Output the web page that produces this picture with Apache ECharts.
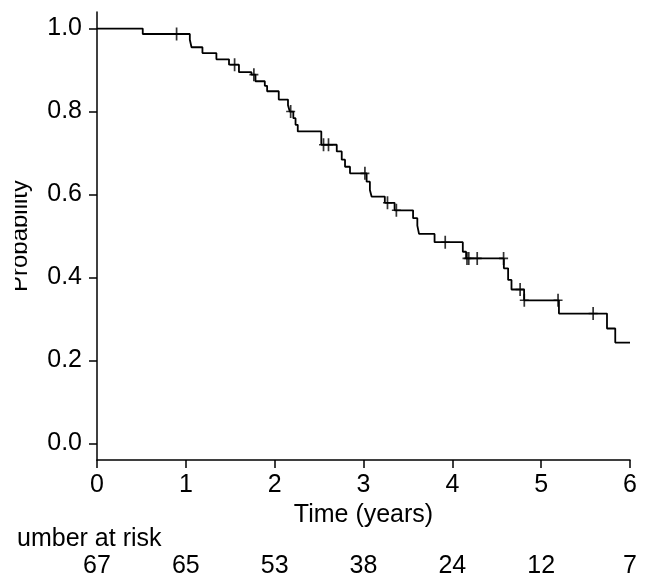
<!DOCTYPE html>
<html>
<head>
<meta charset="utf-8">
<script src="https://cdn.jsdelivr.net/npm/echarts@6/dist/echarts.min.js"></script>
<style>html,body{margin:0;padding:0;background:#fff;}#c{width:646px;height:581px;}</style>
</head>
<body>
<div id="c"></div>
<script>
// Kaplan-Meier step points: time (years) at which survival drops, and survival after drop
const times = [0, 0.515, 1.045, 1.064, 1.187, 1.344, 1.486, 1.598, 1.739, 1.784, 1.889, 1.915, 2.046, 2.15, 2.17, 2.21, 2.235, 2.26, 2.525, 2.699, 2.755, 2.792, 2.848, 3.035, 3.072, 3.091, 3.24, 3.35, 3.558, 3.606, 3.625, 3.80, 4.118, 4.155, 4.58, 4.628, 4.666, 4.808, 5.2, 5.741, 5.834, 6.0];
const surv  = [1, 0.987, 0.973, 0.955, 0.941, 0.926, 0.913, 0.895, 0.889, 0.873, 0.862, 0.849, 0.829, 0.815, 0.80, 0.784, 0.768, 0.752, 0.72, 0.704, 0.684, 0.667, 0.651, 0.631, 0.611, 0.595, 0.58, 0.562, 0.543, 0.525, 0.505, 0.485, 0.462, 0.446, 0.422, 0.394, 0.371, 0.345, 0.313, 0.277, 0.243, 0.243];
// censored observations
const censorTimes = [0.896, 1.549, 1.766, 2.18, 2.55, 2.606, 3.016, 3.27, 3.37, 3.92, 4.165, 4.185, 4.28, 4.577, 4.763, 4.81, 5.19, 5.585];
const censorSurv  = [0.987, 0.913, 0.889, 0.80, 0.72, 0.72, 0.651, 0.58, 0.562, 0.485, 0.446, 0.446, 0.446, 0.446, 0.371, 0.345, 0.345, 0.313];
const xTicks = [0, 1, 2, 3, 4, 5, 6];
const yTicks = [0, 0.2, 0.4, 0.6, 0.8, 1.0];
const atRisk = [67, 65, 53, 38, 24, 12, 7];

const FONT = "'Liberation Sans', Arial, Helvetica, sans-serif";
const FS = 25;
const chart = echarts.init(document.getElementById('c'), null, {renderer: 'canvas'});
const lineData = times.map((t, i) => [t, surv[i]]);
const censData = censorTimes.map((t, i) => [t, censorSurv[i]]);
const axisLineStyle = {color: '#000', width: 1.5};

chart.setOption({
  animation: false,
  backgroundColor: '#fff',
  grid: {left: 92, right: 16, top: 12, bottom: 121},
  xAxis: [{
    type: 'value', min: 0, max: 6, interval: 1,
    axisLine: {show: true, onZero: false, lineStyle: axisLineStyle},
    axisTick: {show: true, length: 8, lineStyle: axisLineStyle},
    axisLabel: {color: '#000', fontSize: FS, fontFamily: FONT, margin: 13},
    splitLine: {show: false},
    name: 'Time (years)', nameLocation: 'middle', nameGap: 39,
    nameTextStyle: {color: '#000', fontSize: FS, fontFamily: FONT}
  }, {
    type: 'value', min: 0, max: 6, interval: 1, position: 'bottom', offset: 86,
    axisLine: {show: false, onZero: false}, axisTick: {show: false}, splitLine: {show: false},
    axisLabel: {color: '#000', fontSize: FS, fontFamily: FONT, margin: 8,
      formatter: v => { const i = xTicks.indexOf(Math.round(v)); return i >= 0 ? String(atRisk[i]) : ''; }}
  }],
  yAxis: {
    type: 'value', min: -0.04, max: 1.04,
    axisLine: {show: true, onZero: false, lineStyle: axisLineStyle},
    axisTick: {show: true, length: 8, lineStyle: axisLineStyle, customValues: yTicks},
    axisLabel: {color: '#000', fontSize: FS, fontFamily: FONT, margin: 15, customValues: yTicks,
      formatter: v => v.toFixed(1)},
    splitLine: {show: false},
    name: 'Probability', nameLocation: 'middle', nameRotate: 90, nameGap: 65,
    nameTextStyle: {color: '#000', fontSize: 24, fontFamily: FONT}
  },
  series: [{
    type: 'line', step: 'end', data: lineData, symbol: 'none', silent: true,
    lineStyle: {color: '#000', width: 1.8}
  }, {
    type: 'scatter', data: censData, silent: true,
    symbol: 'path://M4.05,0 H5.95 V4.4 H10 V5.6 H5.95 V10 H4.05 V5.6 H0 V4.4 H4.05 Z',
    symbolSize: [9, 13], itemStyle: {color: '#000'}
  }],
  graphic: [{
    type: 'text', left: -1, top: 527, z: 50,
    style: {text: 'Number at risk', fill: '#000', font: FS + 'px ' + FONT}
  }, {
    type: 'rect', left: 0, top: 520, z: 100, shape: {width: 17, height: 40}, style: {fill: '#fff'}
  }, {
    type: 'rect', left: 0, top: 120, z: 100, shape: {width: 15, height: 240}, style: {fill: '#fff'}
  }]
});
</script>
</body>
</html>
